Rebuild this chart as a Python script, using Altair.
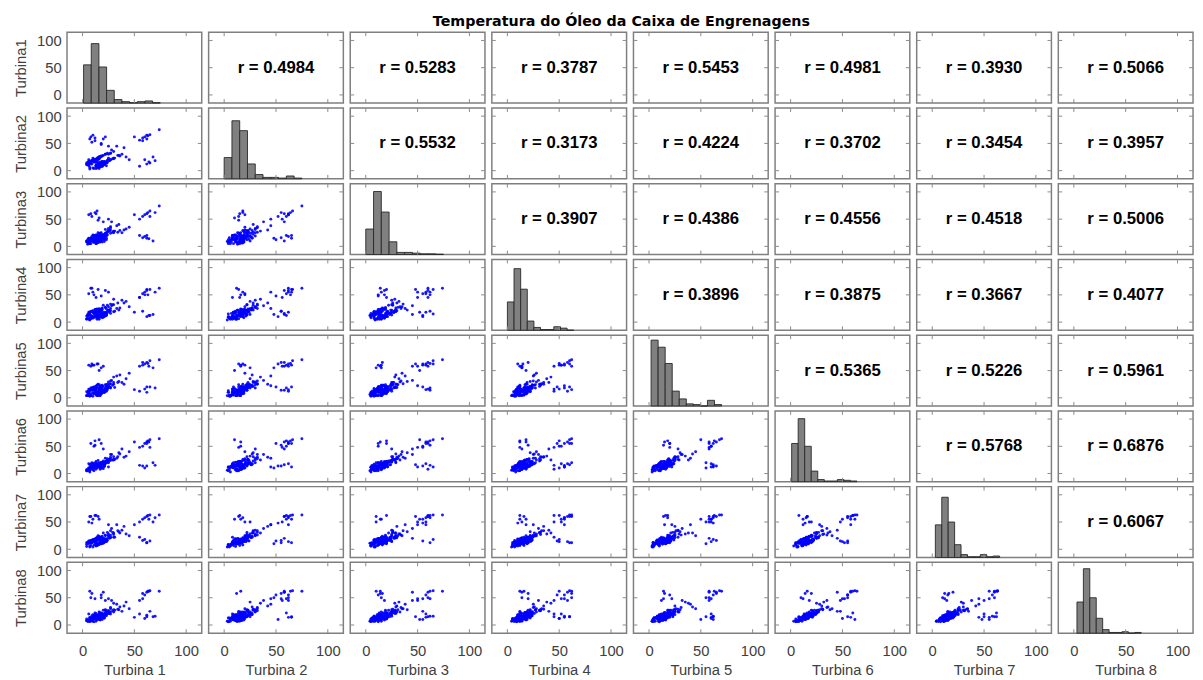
import altair as alt
import pandas as pd
import numpy as np

# ---------------- data ----------------
row_titles = ["Turbina1", "Turbina2", "Turbina3", "Turbina4",
              "Turbina5", "Turbina6", "Turbina7", "Turbina8"]
col_titles = ["Turbina 1", "Turbina 2", "Turbina 3", "Turbina 4",
              "Turbina 5", "Turbina 6", "Turbina 7", "Turbina 8"]
chart_title = "Temperatura do Óleo da Caixa de Engrenagens"

# scatter samples (same sample index across turbines)
t1 = [7, 4, 13, 8, 16, 6, 14, 6, 13, 20, 11, 18,
      9, 17, 21, 13, 17, 10, 21, 18, 14, 24, 18, 24,
      16, 26, 22, 30, 22, 29, 27, 34, 10, 6, 15, 6,
      18, 11, 17, 10, 23, 16, 12, 23, 17, 23, 15, 25,
      7, 4, 11, 8, 5, 17, 9, 15, 19, 11, 17, 11,
      22, 14, 22, 19, 31, 25, 30, 4, 13, 19, 8, 21,
      14, 7, 15, 9, 20, 17, 27, 7, 18, 13, 19, 17,
      5, 16, 7, 16, 12, 23, 18, 26, 20, 17, 14, 19,
      14, 8, 21, 15, 23, 5, 13, 11, 21, 16, 27, 24,
      6, 14, 11, 21, 13, 23, 19, 13, 15, 16, 13, 25,
      58, 60, 62, 63, 65, 55, 74,
      8, 10, 12, 15, 18, 6, 20, 62, 60, 65, 68, 55, 12, 25,
      9, 14, 22, 16, 70, 58, 11, 7, 50, 13, 18, 62, 9, 64,
      35, 40, 30, 45, 28, 38, 33, 42, 27, 36]
t2 = [3, 12, 4, 12, 4, 12, 18, 9, 16, 12, 19, 9,
      18, 9, 17, 21, 13, 23, 16, 13, 21, 15, 27, 19,
      25, 18, 30, 23, 30, 22, 32, 28, 5, 13, 6, 17,
      8, 19, 12, 18, 9, 22, 19, 16, 26, 16, 24, 23,
      6, 11, 4, 15, 11, 7, 19, 11, 8, 18, 11, 21,
      15, 23, 14, 27, 23, 30, 22, 14, 9, 8, 16, 11,
      6, 17, 9, 17, 11, 24, 20, 16, 9, 19, 16, 16,
      13, 8, 16, 8, 19, 15, 26, 19, 28, 8, 19, 16,
      5, 17, 13, 22, 16, 15, 8, 16, 15, 25, 20, 32,
      16, 9, 19, 12, 20, 14, 17, 10, 14, 22, 17, 21,
      60, 62, 58, 64, 66, 56, 75,
      62, 65, 55, 14, 50, 20, 58, 12, 20, 14, 25, 8, 60, 45,
      12, 18, 62, 10, 18, 55, 16, 58, 62, 15, 48, 65, 52, 16,
      28, 42, 35, 20, 38, 30, 45, 25, 32, 27]
t3 = [9, 8, 5, 15, 8, 15, 6, 14, 8, 16, 20, 13,
      15, 20, 9, 19, 14, 21, 13, 25, 15, 21, 15, 27,
      19, 29, 19, 27, 31, 26, 34, 26, 8, 5, 12, 12,
      15, 8, 19, 13, 12, 23, 15, 20, 24, 15, 25, 29,
      5, 9, 12, 5, 12, 8, 18, 8, 17, 19, 14, 19,
      23, 17, 24, 16, 28, 33, 25, 10, 5, 15, 15, 13,
      11, 6, 18, 12, 21, 13, 24, 10, 20, 12, 20, 9,
      4, 13, 10, 20, 11, 20, 17, 28, 22, 14, 21, 12,
      16, 10, 17, 12, 25, 7, 16, 8, 19, 19, 30, 26,
      8, 17, 8, 19, 15, 24, 8, 21, 7, 19, 18, 29,
      55, 58, 60, 62, 65, 50, 74,
      60, 15, 62, 48, 12, 58, 45, 15, 18, 55, 10, 20, 20, 50,
      14, 65, 18, 52, 62, 16, 12, 10, 58, 60, 15, 20, 55, 14,
      40, 30, 28, 35, 45, 25, 38, 32, 36, 29]
t4 = [4, 11, 10, 6, 15, 5, 12, 18, 10, 9, 16, 16,
      11, 18, 16, 11, 22, 19, 13, 22, 12, 20, 23, 17,
      24, 19, 27, 19, 27, 32, 25, 35, 7, 12, 7, 14,
      10, 17, 10, 21, 17, 14, 23, 14, 22, 24, 18, 22,
      8, 5, 9, 12, 7, 16, 8, 19, 12, 10, 20, 16,
      16, 24, 17, 26, 20, 28, 32, 6, 16, 8, 19, 18,
      5, 14, 7, 20, 15, 23, 16, 18, 11, 18, 12, 14,
      12, 5, 18, 11, 18, 12, 24, 21, 31, 9, 18, 23,
      9, 19, 11, 20, 13, 14, 9, 18, 11, 24, 21, 31,
      13, 8, 16, 10, 23, 17, 19, 10, 13, 13, 23, 22,
      52, 55, 58, 50, 60, 45, 62,
      62, 55, 20, 60, 48, 52, 14, 10, 50, 12, 14, 45, 12, 55,
      62, 15, 58, 18, 55, 20, 50, 16, 18, 45, 14, 60, 10, 12,
      22, 35, 42, 28, 30, 40, 25, 38, 33, 26]
t5 = [4, 4, 10, 4, 13, 4, 9, 16, 8, 14, 8, 16,
      8, 16, 12, 20, 11, 19, 15, 12, 23, 15, 21, 18,
      18, 25, 18, 28, 24, 23, 31, 28, 3, 9, 4, 13,
      7, 15, 8, 14, 20, 14, 20, 14, 21, 19, 25, 20,
      3, 4, 10, 4, 11, 5, 14, 9, 11, 20, 12, 18,
      15, 23, 15, 23, 19, 29, 25, 11, 5, 10, 18, 10,
      4, 12, 9, 18, 11, 21, 18, 7, 15, 12, 21, 4,
      6, 5, 15, 10, 17, 12, 22, 20, 21, 16, 11, 18,
      5, 15, 10, 18, 16, 5, 16, 8, 14, 24, 19, 25,
      11, 7, 17, 10, 16, 24, 9, 17, 5, 14, 21, 19,
      60, 62, 65, 63, 68, 58, 70,
      58, 60, 14, 62, 20, 60, 58, 10, 16, 20, 55, 12, 18, 22,
      15, 62, 12, 50, 18, 65, 60, 14, 15, 16, 55, 20, 62, 58,
      30, 25, 38, 45, 32, 28, 40, 35, 26, 42]
t6 = [6, 5, 11, 8, 12, 7, 15, 10, 13, 9, 15, 17,
      11, 17, 14, 20, 14, 18, 13, 21, 17, 21, 17, 25,
      20, 26, 20, 26, 28, 25, 35, 31, 7, 6, 12, 9,
      14, 10, 15, 13, 20, 16, 16, 22, 16, 22, 24, 21,
      3, 7, 5, 11, 7, 14, 11, 14, 18, 13, 15, 19,
      21, 18, 22, 18, 26, 25, 31, 5, 12, 11, 17, 14,
      11, 8, 14, 13, 21, 18, 24, 8, 16, 13, 19, 8,
      5, 12, 11, 17, 14, 22, 16, 25, 23, 14, 13, 20,
      12, 11, 19, 14, 21, 8, 15, 12, 17, 18, 27, 27,
      8, 15, 10, 17, 17, 22, 17, 12, 13, 15, 22, 20,
      50, 55, 58, 60, 62, 48, 64,
      55, 12, 52, 16, 55, 18, 45, 14, 10, 48, 20, 15, 60, 12,
      20, 12, 18, 62, 15, 14, 50, 16, 58, 8, 10, 55, 14, 58,
      38, 30, 25, 40, 35, 45, 28, 32, 30, 36]
t7 = [4, 9, 6, 12, 9, 12, 8, 13, 15, 11, 14, 10,
      16, 12, 18, 14, 20, 16, 19, 14, 19, 16, 22, 20,
      23, 21, 26, 22, 25, 31, 26, 34, 4, 11, 8, 15,
      11, 15, 11, 18, 14, 21, 17, 17, 22, 17, 25, 25,
      6, 5, 8, 7, 13, 10, 14, 10, 12, 18, 17, 15,
      16, 22, 19, 24, 22, 28, 27, 12, 7, 14, 12, 19,
      7, 12, 16, 12, 19, 15, 22, 15, 12, 20, 15, 12,
      11, 9, 14, 10, 19, 16, 21, 20, 30, 11, 18, 16,
      8, 16, 14, 19, 15, 11, 10, 17, 13, 23, 21, 31,
      12, 10, 17, 13, 19, 17, 11, 19, 10, 20, 17, 25,
      55, 58, 60, 62, 63, 50, 63,
      60, 55, 12, 60, 15, 50, 20, 12, 18, 15, 50, 22, 62, 45,
      12, 18, 14, 55, 58, 16, 14, 60, 45, 62, 10, 12, 48, 55,
      32, 42, 30, 25, 38, 35, 45, 28, 34, 30]
t8 = [7, 8, 7, 7, 13, 9, 13, 9, 14, 14, 11, 17,
      13, 18, 13, 17, 13, 19, 20, 16, 15, 22, 19, 23,
      20, 24, 27, 24, 28, 26, 32, 29, 7, 7, 11, 8,
      13, 11, 16, 14, 19, 15, 19, 21, 19, 24, 19, 26,
      7, 8, 6, 10, 8, 13, 9, 14, 16, 14, 19, 16,
      19, 17, 23, 21, 27, 24, 28, 11, 11, 10, 13, 18,
      10, 10, 11, 17, 14, 22, 20, 14, 12, 17, 20, 9,
      7, 12, 13, 12, 19, 17, 22, 21, 27, 10, 17, 18,
      13, 10, 16, 16, 22, 7, 13, 16, 13, 24, 24, 26,
      8, 13, 13, 19, 16, 21, 16, 14, 13, 16, 21, 21,
      48, 55, 60, 62, 63, 45, 62,
      50, 14, 48, 15, 55, 20, 60, 18, 12, 25, 15, 20, 22, 48,
      58, 16, 45, 10, 16, 58, 12, 62, 14, 15, 50, 15, 10, 62,
      28, 35, 40, 30, 45, 25, 38, 42, 30, 33]

# histogram bar heights (share of panel height, %) and bin ranges
hist1 = [54, 84, 51, 18, 5, 2, 0.5, 2, 3, 0.5]
hist2 = [30, 82, 68, 21, 6, 2, 2, 1, 4, 1]
hist3 = [36, 89, 60, 18, 3, 3, 2, 1, 1, 0.5]
hist4 = [40, 87, 58, 13, 4, 1, 1, 5, 3, 0]
hist5 = [93, 83, 60, 21, 10, 3, 2, 0, 8, 2]
hist6 = [54, 89, 50, 15, 3, 1, 1, 3, 2, 1]
hist7 = [46, 85, 50, 18, 4, 1, 1, 4, 1, 2]
hist8 = [44, 91, 50, 21, 5, 1, 1, 2, 0, 1]
hist_lo = [1, 0, 0, 0, 2, 1, 3, 3]
hist_hi = [75, 75, 75, 64, 70, 64, 65, 65]

# correlation coefficients, upper triangle, row by row
r_row1 = ["0.4984", "0.5283", "0.3787", "0.5453", "0.4981", "0.3930", "0.5066"]
r_row2 = ["0.5532", "0.3173", "0.4224", "0.3702", "0.3454", "0.3957"]
r_row3 = ["0.3907", "0.4386", "0.4556", "0.4518", "0.5006"]
r_row4 = ["0.3896", "0.3875", "0.3667", "0.4077"]
r_row5 = ["0.5365", "0.5226", "0.5961"]
r_row6 = ["0.5768", "0.6876"]
r_row7 = ["0.6067"]

axis_ticks = [0, 50, 100]
axis_domain = [-15, 115]

# ---------------- build ----------------
series = [t1, t2, t3, t4, t5, t6, t7, t8]
hists = [hist1, hist2, hist3, hist4, hist5, hist6, hist7, hist8]
r_rows = [r_row1, r_row2, r_row3, r_row4, r_row5, r_row6, r_row7]
df = pd.DataFrame({f"t{k + 1}": s for k, s in enumerate(series)})
tick_df = pd.DataFrame({"v": axis_ticks})

W, H = 137, 72
FONT = "Liberation Sans"
TXT = "#404040"
TICK = "#8a8a8a"
xs = alt.Scale(domain=axis_domain, nice=False, zero=False)
ys = alt.Scale(domain=axis_domain, nice=False, zero=False)


def x_axis(title):
    return alt.Axis(values=axis_ticks, title=title, grid=False, domain=False,
                    ticks=False, tickSize=0, labelFlush=False,
                    labelFont=FONT, labelFontSize=15, labelColor=TXT,
                    titleFont=FONT, titleFontSize=15, titleFontWeight="normal",
                    titleColor=TXT, labelPadding=11, titlePadding=4)


def y_axis(title):
    return alt.Axis(values=axis_ticks, title=title, grid=False, domain=False,
                    ticks=False, tickSize=0, labelFlush=False,
                    labelFont=FONT, labelFontSize=15, labelColor=TXT,
                    titleFont=FONT, titleFontSize=15, titleFontWeight="normal",
                    titleColor=TXT, labelPadding=6, titlePadding=8)


def tick_layers(xa, ya, with_y=True):
    base = alt.Chart(tick_df).mark_rule(color=TICK, strokeWidth=1)
    xenc = alt.X("v:Q", scale=xs, axis=xa)
    layers = [
        base.encode(x=xenc, y=alt.value(0), y2=alt.value(4)),
        base.encode(x=xenc, y=alt.value(H - 4), y2=alt.value(H)),
    ]
    if with_y:
        yenc = alt.Y("v:Q", scale=ys, axis=ya)
        layers += [
            base.encode(y=yenc, x=alt.value(0), x2=alt.value(4)),
            base.encode(y=yenc, x=alt.value(W - 4), x2=alt.value(W)),
        ]
    return layers


panels = []
for i in range(8):
    for j in range(8):
        xa = x_axis(col_titles[j]) if i == 7 else None
        ya = y_axis(row_titles[i]) if j == 0 else None
        if i > j:
            pts = alt.Chart(df).mark_circle(size=9, color="#0000ff", opacity=0.9).encode(
                x=alt.X(f"t{j + 1}:Q", scale=xs, axis=xa),
                y=alt.Y(f"t{i + 1}:Q", scale=ys, axis=ya),
            )
            panel = alt.layer(pts, *tick_layers(xa, ya, True))
        elif i == j:
            edges = np.linspace(hist_lo[i], hist_hi[i], len(hists[i]) + 1)
            hdf = pd.DataFrame({"lo": edges[:-1], "hi": edges[1:],
                                "count": hists[i], "base": 0})
            bars = alt.Chart(hdf).mark_bar(color="#808080", stroke="#262626",
                                           strokeWidth=0.9).encode(
                x=alt.X("lo:Q", scale=xs, axis=xa),
                x2="hi:Q",
                y=alt.Y("count:Q", scale=alt.Scale(domain=[0, 100], nice=False), axis=None),
                y2="base:Q",
            )
            if j == 0:
                ax = alt.Chart(tick_df).mark_point(opacity=0).encode(
                    x=alt.X("v:Q", scale=xs, axis=xa),
                    y=alt.Y("v:Q", scale=ys, axis=ya),
                )
                panel = alt.layer(ax, bars, *tick_layers(xa, None, False)).resolve_scale(y="independent")
            else:
                panel = alt.layer(bars, *tick_layers(xa, None, False))
        else:
            label = "r = " + r_rows[i][j - i - 1]
            txt = alt.Chart(pd.DataFrame({"label": [label]})).mark_text(
                font=FONT, fontSize=17, fontWeight="bold", color="black",
                align="center", baseline="middle").encode(
                text="label:N", x=alt.value(W / 2), y=alt.value(H / 2))
            panel = alt.layer(txt, *tick_layers(None, None, True))
        panels.append(panel.properties(width=W, height=H))

chart = alt.concat(*panels, columns=8, spacing={"row": 1, "column": 3}).properties(
    title=alt.TitleParams(chart_title, font="DejaVu Sans", fontSize=14.5,
                          fontWeight="bold", color="black", anchor="middle",
                          offset=2, dx=18),
    padding={"left": 5, "top": 0, "right": 0, "bottom": 0},
).configure_view(stroke="#7f7f7f", strokeWidth=1.5)

chart.save("out.html", embed_options={"renderer": "svg", "actions": False})
